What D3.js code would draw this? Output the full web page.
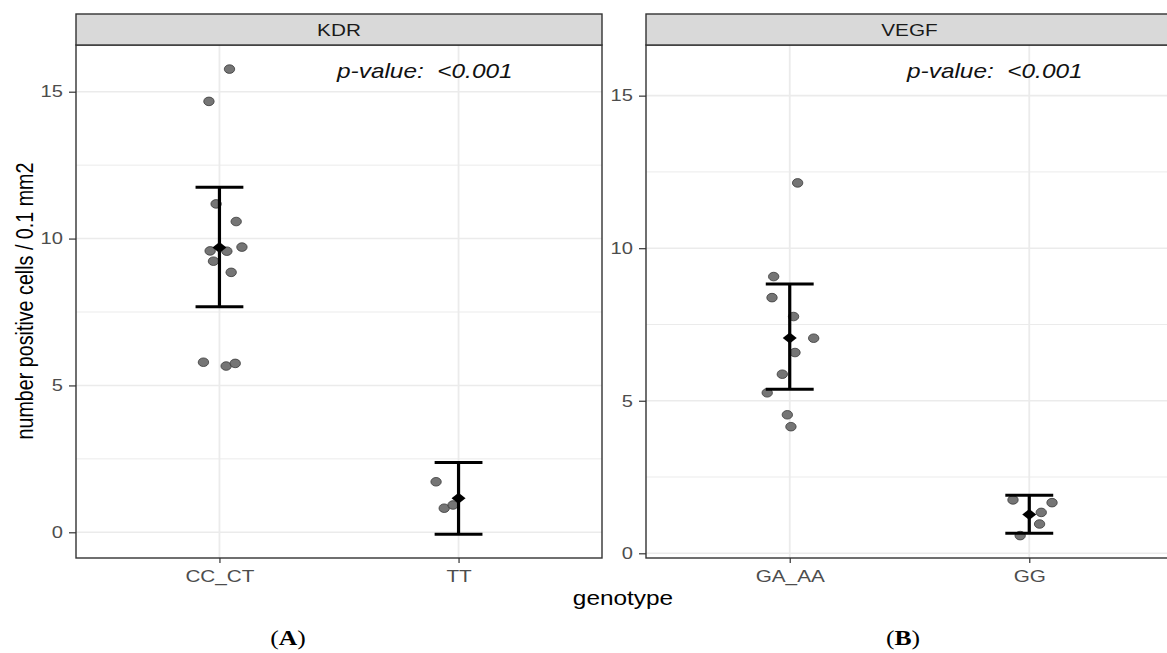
<!DOCTYPE html>
<html>
<head>
<meta charset="utf-8">
<script src="https://cdn.jsdelivr.net/npm/d3@7"></script>
<style>
  body { margin: 0; background: #fff; }
  svg { display: block; font-family: 'Liberation Sans', Arial, sans-serif; }
</style>
</head>
<body>
<svg id="chart" width="1167" height="653"></svg>
<script>
// KDR panel
const kdrCategories = ['CC_CT', 'TT'];
const kdrCCValues = [15.77, 14.67, 11.18, 10.58, 9.71, 9.58, 9.57, 9.23, 8.85, 5.79, 5.66, 5.75];
const kdrCCJitter = [0.042, -0.044, -0.014, 0.07, 0.094, -0.039, 0.031, -0.025, 0.049, -0.067, 0.028, 0.066];
const kdrTTValues = [1.72, 0.82, 0.93];
const kdrTTJitter = [-0.094, -0.06, -0.023];
const kdrMean = [9.7, 1.16];
const kdrLower = [7.68, -0.07];
const kdrUpper = [11.75, 2.38];
const kdrYLimits = [-0.875, 16.59];

// VEGF panel
const vegfCategories = ['GA_AA', 'GG'];
const vegfGAValues = [12.14, 9.07, 8.38, 7.76, 7.05, 6.58, 5.87, 5.26, 4.54, 4.15];
const vegfGAJitter = [0.033, -0.067, -0.074, 0.016, 0.1, 0.022, -0.031, -0.094, -0.01, 0.005];
const vegfGGValues = [1.75, 1.66, 1.34, 0.96, 0.58];
const vegfGGJitter = [-0.068, 0.095, 0.05, 0.043, -0.038];
const vegfMean = [7.06, 1.27];
const vegfLower = [5.38, 0.66];
const vegfUpper = [8.83, 1.9];
const vegfYLimits = [-0.154, 16.66];

const yMajorTicks = [0, 5, 10, 15];
const yMinorTicks = [2.5, 7.5, 12.5];
const pValueLabel = 'p-value:  <0.001';

const svg = d3.select('#chart');
// the published figure is stretched sideways, so text is too
const stretch = 1.22;

function stretchedText(g, x, y, txt) {
  return g.append('text')
    .attr('transform', `translate(${x},${y}) scale(${stretch},1)`)
    .text(txt);
}

function drawPanel({ left, right, title, categories, groups, mean, lower, upper, yLimits, tag, tagX }) {
  const top = 45;
  const bottom = 558;
  const stripTop = 14;

  const x = d3.scalePoint().domain(categories).range([left, right]).padding(0.6);
  const step = x.step();
  const y = d3.scaleLinear().domain(yLimits).range([bottom, top]);

  const g = svg.append('g');
  const clipId = 'clip-' + title;
  svg.append('clipPath').attr('id', clipId)
    .append('rect').attr('x', left).attr('y', top).attr('width', right - left).attr('height', bottom - top);

  const plot = g.append('g').attr('clip-path', `url(#${clipId})`);

  // grid
  plot.selectAll('.minor').data(yMinorTicks).enter().append('line')
    .attr('x1', left).attr('x2', right)
    .attr('y1', (d) => y(d)).attr('y2', (d) => y(d))
    .attr('stroke', '#ebebeb').attr('stroke-width', 1);
  plot.selectAll('.major').data(yMajorTicks).enter().append('line')
    .attr('x1', left).attr('x2', right)
    .attr('y1', (d) => y(d)).attr('y2', (d) => y(d))
    .attr('stroke', '#ebebeb').attr('stroke-width', 1.6);
  plot.selectAll('.vgrid').data(categories).enter().append('line')
    .attr('x1', (d) => x(d)).attr('x2', (d) => x(d))
    .attr('y1', top).attr('y2', bottom)
    .attr('stroke', '#ebebeb').attr('stroke-width', 1.8);

  // jittered points
  const pts = [];
  groups.forEach((grp, i) => {
    grp.values.forEach((v, j) => pts.push({ cat: categories[i], value: v, jit: grp.jitter[j] }));
  });
  plot.selectAll('.pt').data(pts).enter().append('ellipse')
    .attr('cx', (d) => x(d.cat) + d.jit * step)
    .attr('cy', (d) => y(d.value))
    .attr('rx', 5.2).attr('ry', 4.3)
    .attr('fill', '#6e6e6e').attr('stroke', '#3a3a3a').attr('stroke-width', 0.8)
    .attr('fill-opacity', 0.95);

  // error bars
  const eb = categories.map((c, i) => ({ cat: c, mean: mean[i], lo: lower[i], hi: upper[i] }));
  const capHalf = 0.1 * step;
  plot.selectAll('.ebv').data(eb).enter().append('line')
    .attr('x1', (d) => x(d.cat)).attr('x2', (d) => x(d.cat))
    .attr('y1', (d) => y(d.lo)).attr('y2', (d) => y(d.hi))
    .attr('stroke', '#000').attr('stroke-width', 3.2);
  ['lo', 'hi'].forEach((k) => {
    plot.selectAll('.cap' + k).data(eb).enter().append('line')
      .attr('x1', (d) => x(d.cat) - capHalf).attr('x2', (d) => x(d.cat) + capHalf)
      .attr('y1', (d) => y(d[k])).attr('y2', (d) => y(d[k]))
      .attr('stroke', '#000').attr('stroke-width', 3);
  });
  plot.selectAll('.mean').data(eb).enter().append('path')
    .attr('d', (d) => {
      const cx = x(d.cat), cy = y(d.mean);
      return `M${cx - 7},${cy}L${cx},${cy - 5.5}L${cx + 7},${cy}L${cx},${cy + 5.5}Z`;
    })
    .attr('fill', '#000');

  // p-value annotation
  stretchedText(plot, left + 261, 78, pValueLabel)
    .style('white-space', 'pre')
    .attr('font-size', 20).attr('font-style', 'italic').attr('fill', '#111');

  // panel border
  g.append('rect').attr('x', left).attr('y', top).attr('width', right - left).attr('height', bottom - top)
    .attr('fill', 'none').attr('stroke', '#333').attr('stroke-width', 1.4);

  // strip
  g.append('rect').attr('x', left).attr('y', stripTop).attr('width', right - left).attr('height', top - stripTop)
    .attr('fill', '#d9d9d9').attr('stroke', '#333').attr('stroke-width', 1.4);
  stretchedText(g, (left + right) / 2, 36, title)
    .attr('text-anchor', 'middle').attr('font-size', 17).attr('fill', '#1a1a1a');

  // y axis
  const yAxis = g.append('g').attr('transform', `translate(${left},0)`)
    .call(d3.axisLeft(y).tickValues(yMajorTicks).tickSize(7).tickPadding(6));
  yAxis.select('.domain').remove();
  yAxis.selectAll('line').attr('stroke', '#333').attr('stroke-width', 1.2);
  yAxis.selectAll('text').attr('font-size', 16.5).attr('fill', '#4d4d4d')
    .attr('font-family', 'Liberation Sans, Arial, sans-serif')
    .attr('transform', function () {
      const tx = +d3.select(this).attr('x');
      return `translate(${tx},0) scale(${stretch},1) translate(${-tx},0)`;
    });

  // x axis
  const xAxis = g.append('g').attr('transform', `translate(0,${bottom})`)
    .call(d3.axisBottom(x).tickSize(5));
  xAxis.select('.domain').remove();
  xAxis.selectAll('line').attr('stroke', '#333').attr('stroke-width', 1.2);
  xAxis.selectAll('text').attr('font-size', 17).attr('fill', '#4d4d4d')
    .attr('font-family', 'Liberation Sans, Arial, sans-serif')
    .attr('y', 0).attr('dy', 0)
    .attr('transform', `translate(0,24) scale(${stretch},1)`);

  // panel tag
  const t = svg.append('text')
    .attr('transform', `translate(${tagX},645) scale(${stretch},1)`)
    .attr('text-anchor', 'middle').attr('font-family', 'Liberation Serif, Times New Roman, serif')
    .attr('font-size', 21);
  t.append('tspan').text('(');
  t.append('tspan').attr('font-weight', 'bold').text(tag);
  t.append('tspan').text(')');
}

drawPanel({
  left: 76, right: 602, title: 'KDR', categories: kdrCategories,
  groups: [{ values: kdrCCValues, jitter: kdrCCJitter }, { values: kdrTTValues, jitter: kdrTTJitter }],
  mean: kdrMean, lower: kdrLower, upper: kdrUpper, yLimits: kdrYLimits, tag: 'A', tagX: 288,
});

drawPanel({
  left: 646, right: 1173, title: 'VEGF', categories: vegfCategories,
  groups: [{ values: vegfGAValues, jitter: vegfGAJitter }, { values: vegfGGValues, jitter: vegfGGJitter }],
  mean: vegfMean, lower: vegfLower, upper: vegfUpper, yLimits: vegfYLimits, tag: 'B', tagX: 903,
});

// shared axis titles
svg.append('text')
  .attr('transform', `translate(33,301) scale(${stretch},1) rotate(-90)`)
  .attr('text-anchor', 'middle').attr('font-size', 19.7).attr('fill', '#000')
  .text('number positive cells / 0.1 mm2');

svg.append('text')
  .attr('transform', `translate(623,605) scale(${stretch},1)`)
  .attr('text-anchor', 'middle').attr('font-size', 20).attr('fill', '#000')
  .text('genotype');
</script>
</body>
</html>
